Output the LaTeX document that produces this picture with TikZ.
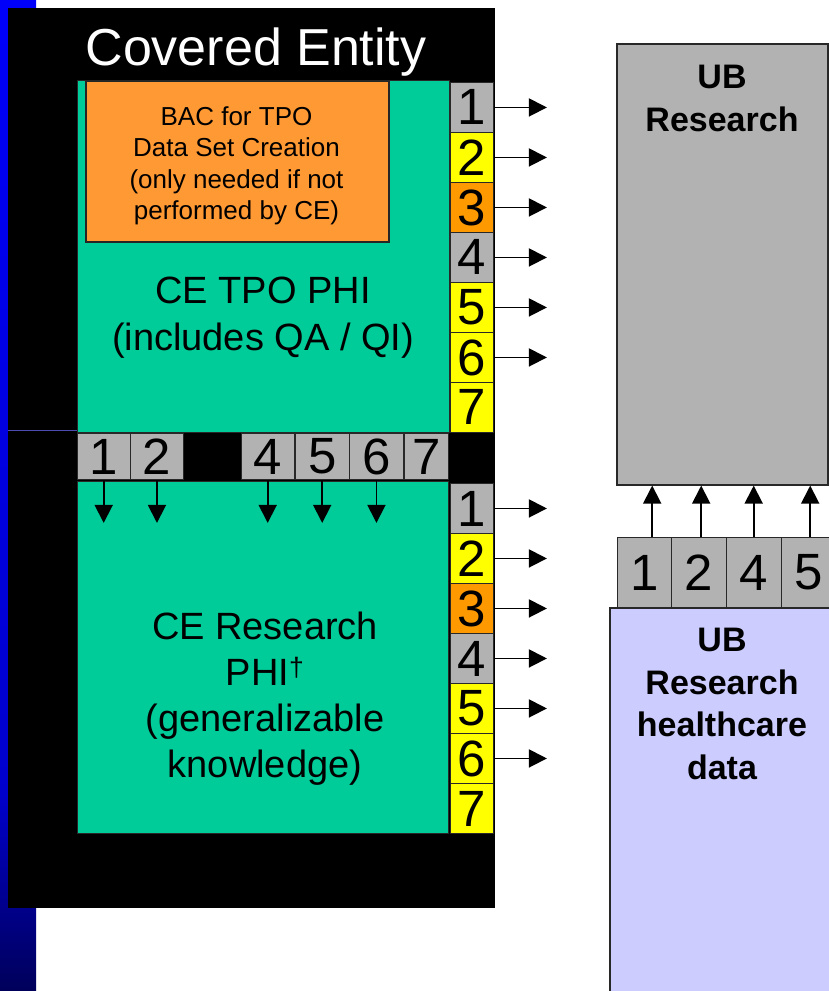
\documentclass[tikz,border=0pt]{standalone}
\usepackage{fontspec}
\setmainfont{Liberation Sans}
\usetikzlibrary{arrows.meta}
\definecolor{cteal}{RGB}{0,204,153}
\definecolor{corangebox}{RGB}{255,153,51}
\definecolor{corange}{RGB}{255,153,0}
\definecolor{cyellow}{RGB}{255,255,0}
\definecolor{cgray}{RGB}{178,178,178}
\definecolor{cpurple}{RGB}{204,204,255}
\definecolor{cblue}{RGB}{0,0,250}
\definecolor{cbluemid}{RGB}{0,0,205}
\definecolor{cbluedark}{RGB}{0,0,90}
\definecolor{cedge}{RGB}{40,40,40}
\pgfdeclareverticalshading{bluestrip}{100bp}{color(0bp)=(cbluedark); color(25bp)=(cbluedark); color(35bp)=(cbluemid); color(75bp)=(cblue); color(100bp)=(cblue)}
\begin{document}
\begin{tikzpicture}[x=1pt,y=-1pt,
  cellbox/.style={draw=cedge, line width=0.9pt, inner sep=0pt, anchor=north west,
    font=\fontsize{51}{51}\selectfont, text=black},
  vcell/.style={cellbox, minimum width=43pt, minimum height=50pt},
  hcell/.style={cellbox, minimum height=46pt},
  rcell/.style={cellbox, minimum width=54.5pt, minimum height=70pt, fill=cgray},
  panel/.style={draw=cedge, line width=0.8pt, inner sep=0pt, anchor=north west},
  arr/.style={line width=1.8pt, -{Triangle[length=18pt,width=18pt]}},
  label/.style={anchor=north, align=center, inner sep=0pt, text=black},
]
\useasboundingbox (0,0) rectangle (829,991);
\clip (0,0) rectangle (829,991);

% left gradient strip
\shade[shading=bluestrip] (0,0) rectangle (36,991);

% covered entity black frame
\fill[black] (8,8) rectangle (495,908);
\draw[blue!40!gray, line width=0.7pt] (8,430) -- (77,430);
\node[anchor=base, text=white, inner sep=0pt, font=\fontsize{52}{60}\selectfont] (title) at (256,65) {Covered Entity};

% TPO panel
\node[panel, fill=cteal, minimum width=372pt, minimum height=352pt] (tpo) at (77,80) {};
\node[panel, draw=black!85, line width=1.5pt, fill=corangebox, minimum width=303pt, minimum height=161pt] (bac) at (85,80) {};
\node[label, font=\fontsize{26}{31.5}\selectfont] (bactext) at (236.5,106)
  {BAC for TPO\\Data Set Creation\\(only needed if not\\performed by CE)};
\node[label, font=\fontsize{38}{47}\selectfont] (tpotext) at (263,277)
  {CE TPO PHI\\(includes QA / QI)};

% research panel
\node[panel, fill=cteal, minimum width=371pt, minimum height=352pt] (res) at (77,481) {};
\node[label, font=\fontsize{38}{46}\selectfont] (restext) at (265,612)
  {CE Research\\PHI\textsuperscript{†}\\(generalizable\\knowledge)};

% upper vertical cells
\node[vcell, fill=cgray]   (a1) at (450,82)  {1};
\node[vcell, fill=cyellow] (a2) at (450,132) {2};
\node[vcell, fill=corange] (a3) at (450,182) {3};
\node[vcell, fill=cgray]   (a4) at (450,232) {4};
\node[vcell, fill=cyellow] (a5) at (450,282) {5};
\node[vcell, fill=cyellow] (a6) at (450,332) {6};
\node[vcell, fill=cyellow] (a7) at (450,382) {7};

% lower vertical cells
\node[vcell, fill=cgray]   (b1) at (450,483) {1};
\node[vcell, fill=cyellow] (b2) at (450,533) {2};
\node[vcell, fill=corange] (b3) at (450,583) {3};
\node[vcell, fill=cgray]   (b4) at (450,633) {4};
\node[vcell, fill=cyellow] (b5) at (450,683) {5};
\node[vcell, fill=cyellow] (b6) at (450,733) {6};
\node[vcell, fill=cyellow] (b7) at (450,783) {7};

% horizontal cells
\node[hcell, fill=cgray, minimum width=52.5pt] (h1) at (77,433)  {1};
\node[hcell, fill=cgray, minimum width=53pt]   (h2) at (130,433) {2};
\node[hcell, fill=cgray, minimum width=53.5pt] (h4) at (240.5,433) {4};
\node[hcell, fill=cgray, minimum width=53.5pt] (h5) at (295,433) {5};
\node[hcell, fill=cgray, minimum width=54pt]   (h6) at (349,433) {6};
\node[hcell, fill=cgray, minimum width=44pt]   (h7) at (404,433) {7};

% arrows out of the covered entity
\foreach \n in {a1,a2,a3,a4,a5,a6,b1,b2,b3,b4,b5,b6}
  \draw[arr] (\n.east) -- +(53,0);
\foreach \n in {h1,h2,h4,h5,h6}
  \draw[arr] (\n.south) -- +(0,43);

% UB research
\node[panel, line width=1.6pt, fill=cgray, minimum width=211pt, minimum height=441pt] (ub) at (616,43) {};
\node[label, font=\bfseries\fontsize{34}{43}\selectfont] (ubtext) at (722,65) {UB\\Research};

% UB research healthcare data
\node[panel, line width=1.6pt, fill=cpurple, minimum width=240pt, minimum height=420pt] (ubd) at (609,607) {};
\node[label, font=\bfseries\fontsize{34}{42.5}\selectfont] (ubdtext) at (722,628)
  {UB\\Research\\healthcare\\data};

\node[rcell] (r1) at (616.5,537) {1};
\node[rcell] (r2) at (671,537) {2};
\node[rcell] (r4) at (726,537) {4};
\node[rcell] (r5) at (781,537) {5};

\draw[arr] ([xshift=8pt]r1.north) -- ([xshift=8pt]r1.north |- ub.south);
\draw[arr] ([xshift=2.5pt]r2.north) -- ([xshift=2.5pt]r2.north |- ub.south);
\draw[arr] (r4.north) -- (r4.north |- ub.south);
\draw[arr] ([xshift=1.5pt]r5.north) -- ([xshift=1.5pt]r5.north |- ub.south);
\end{tikzpicture}
\end{document}
